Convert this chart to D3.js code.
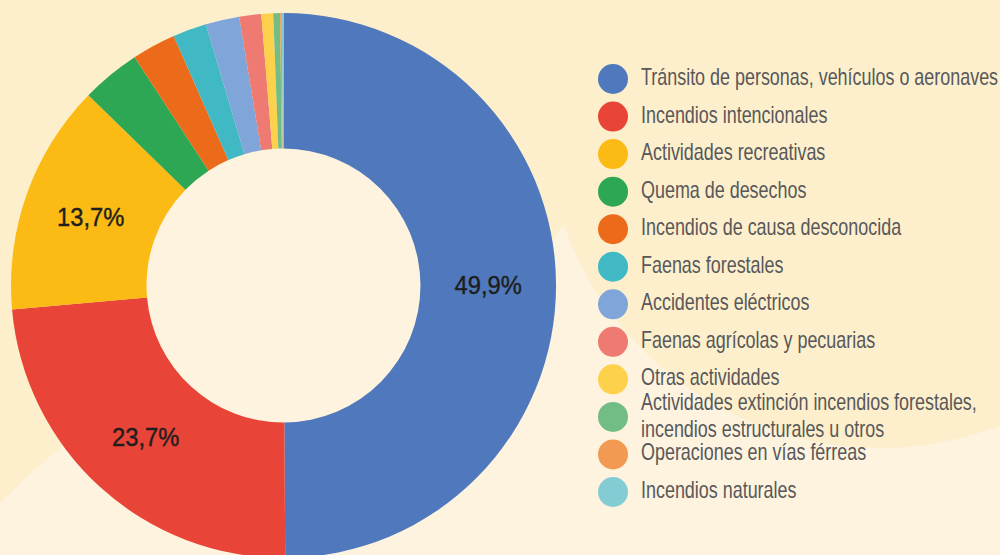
<!DOCTYPE html>
<meta charset="utf-8">
<style>
    body { margin: 0; background: #fef3df; }
    .pct { fill: #1e1e1e; stroke: #1e1e1e; stroke-width: 0.4px; font: 25px "Liberation Sans", Arial, sans-serif; }
    .legend text { fill: #58585a; font: 23px "Liberation Sans", Arial, sans-serif; }
</style>
<svg width="1000" height="555"></svg>
<script src="https://d3js.org/d3.v7.min.js"></script>
<script>

    var causes = [
        "Tránsito de personas, vehículos o aeronaves",
        "Incendios intencionales",
        "Actividades recreativas",
        "Quema de desechos",
        "Incendios de causa desconocida",
        "Faenas forestales",
        "Accidentes eléctricos",
        "Faenas agrícolas y pecuarias",
        "Otras actividades",
        "Actividades extinción incendios forestales,|incendios estructurales u otros",
        "Operaciones en vías férreas",
        "Incendios naturales"
    ];
    var shares = [49.9, 23.7, 13.7, 3.5, 2.6, 2.0, 2.0, 1.3, 0.7, 0.4, 0.1, 0.1];
    var colors = ["#5079bd", "#e84438", "#fbbb14", "#2ea754", "#eb6b1a", "#40b9c4",
                  "#80a5d9", "#ef7a72", "#fdd14c", "#72bd85", "#f39a52", "#84ccd4"];

    var svg = d3.select("svg"),
        cx = 283.5, cy = 285.5,
        outer = 272.5, inner = 137;

    // background: lighter base, darker yellow shapes on top
    svg.append("rect").attr("width", 1000).attr("height", 555).attr("fill", "#fef3df");
    svg.append("circle").attr("cx", 880).attr("cy", 112).attr("r", 336).attr("fill", "#fdefcc");
    svg.append("path")
        .attr("d", "M0,0 L720,0 L545,250 L300,300 L100,420 L70,440 Q30,472 0,503 Z")
        .attr("fill", "#fdefcc");

    var data = causes.map(function(c, i) { return {name: c, value: shares[i], color: colors[i]}; });

    var pie = d3.pie().sort(null).value(function(d) { return d.value; });
    var arc = d3.arc().innerRadius(inner).outerRadius(outer);

    var g = svg.append("g").attr("transform", "translate(" + cx + "," + cy + ")");

    g.append("circle").attr("r", inner).attr("fill", "#fef3df");

    var slices = g.selectAll(".slice")
        .data(pie(data))
        .enter().append("g")
        .attr("class", "slice");

    slices.append("path")
        .attr("d", arc)
        .attr("fill", function(d) { return d.data.color; });

    slices.filter(function(d) { return d.data.value > 5; })
        .append("text")
        .attr("class", "pct")
        .attr("transform", function(d) { return "translate(" + arc.centroid(d) + ") scale(0.95,1)"; })
        .attr("text-anchor", "middle")
        .attr("dy", "0.36em")
        .text(function(d) { return d3.format(".1f")(d.data.value).replace(".", ",") + "%"; });

    // legend
    var rowY = d3.scalePoint().domain(d3.range(causes.length)).range([79, 492]);

    var leg = svg.append("g").attr("class", "legend")
        .selectAll("g")
        .data(data)
        .enter().append("g")
        .attr("transform", function(d, i) { return "translate(613," + rowY(i) + ")"; });

    leg.append("circle")
        .attr("r", 15)
        .attr("fill", function(d) { return d.color; });

    leg.each(function(d) {
        var lines = d.name.split("|");
        var first = lines.length > 1 ? -7 : 6;
        var t = d3.select(this).append("text")
            .attr("transform", "translate(28," + first + ") scale(0.78,1)");
        lines.forEach(function(l, k) {
            t.append("tspan").attr("x", 0).attr("y", k * 27).text(l);
        });
    });

</script>
